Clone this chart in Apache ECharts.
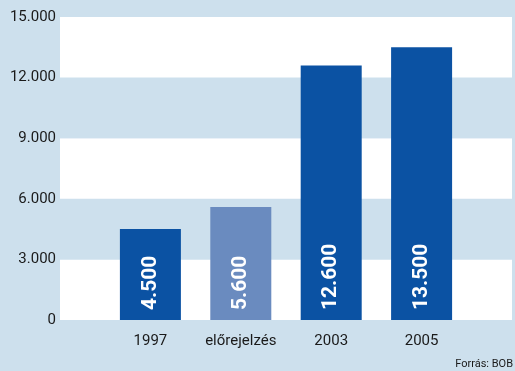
<!DOCTYPE html>
<html>
<head>
<meta charset="utf-8">
<script src="https://cdn.jsdelivr.net/npm/echarts@6/dist/echarts.min.js"></script>
<style>
html,body{margin:0;padding:0;background:#cde0ed;}
#chart{width:515px;height:371px;}
</style>
</head>
<body>
<div id="chart"></div>
<script>
var categories = ['', '1997', 'előrejelzés', '2003', '2005', ''];
var values = [null, 4500, 5600, 12600, 13500, null];
var barColors = [null, '#0b52a3', '#6a8bbf', '#0b52a3', '#0b52a3', null];
var yTicks = { min: 0, max: 15000, interval: 3000 };
var source = 'Forrás: BOB';

var chart = echarts.init(document.getElementById('chart'));

var seriesData = values.map(function (v, i) {
    return { value: v, itemStyle: { color: barColors[i] } };
});

var option = {
    backgroundColor: '#cde0ed',
    animation: false,
    grid: { left: 60, right: 1, top: 17, bottom: 51, containLabel: false },
    xAxis: {
        type: 'category',
        data: categories,
        boundaryGap: false,
        axisLine: { show: false },
        axisTick: { show: false },
        splitLine: { show: false },
        axisLabel: {
            interval: 0,
            margin: 14,
            fontFamily: 'Roboto',
            fontSize: 15,
            color: '#1a1a1a'
        }
    },
    yAxis: {
        type: 'value',
        min: yTicks.min,
        max: yTicks.max,
        interval: yTicks.interval,
        axisLine: { show: false },
        axisTick: { show: false },
        splitLine: { show: false },
        splitArea: { show: true, areaStyle: { color: ['#ffffff', '#cde0ed'] } },
        axisLabel: {
            margin: 4,
            fontFamily: 'Roboto',
            fontSize: 15,
            color: '#1a1a1a',
            formatter: function (v) {
                return v === 0 ? '0' : (v / 1000).toFixed(3);
            }
        }
    },
    series: [{
        type: 'bar',
        data: seriesData,
        barWidth: 61,
        label: {
            show: true,
            position: 'insideBottom',
            distance: 10,
            rotate: 90,
            align: 'left',
            verticalAlign: 'middle',
            color: '#ffffff',
            fontFamily: 'Roboto',
            fontWeight: 'bold',
            fontSize: 21,
            formatter: function (p) {
                return p.value == null ? '' : p.value.toLocaleString('de-DE');
            }
        }
    }],
    graphic: [{
        type: 'text',
        right: 2,
        bottom: 1,
        style: {
            text: source,
            fontFamily: 'Roboto',
            fontSize: 11,
            fill: '#1a1a1a'
        }
    }]
};

chart.setOption(option);
</script>
</body>
</html>
